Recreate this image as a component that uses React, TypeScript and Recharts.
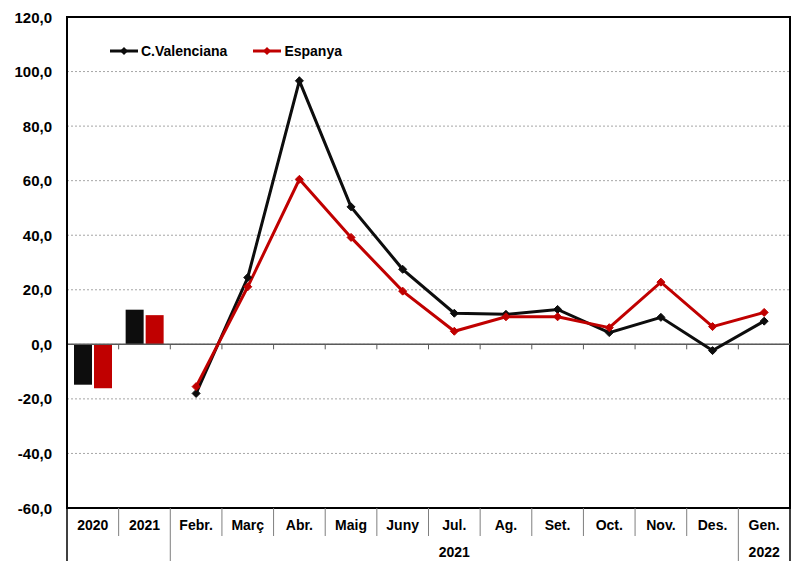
import React from 'react';
import {
  ComposedChart, Bar, Line, XAxis, YAxis, CartesianGrid, ReferenceLine, ReferenceArea,
} from 'recharts';

const categories = ['2020', '2021', 'Febr.', 'Març', 'Abr.', 'Maig', 'Juny', 'Jul.', 'Ag.', 'Set.', 'Oct.', 'Nov.', 'Des.', 'Gen.'];
const annualCats = ['2020', '2021'];
const cvAnnual = [-14.8, 12.7];
const esAnnual = [-16.1, 10.7];
const monthCats = ['Febr.', 'Març', 'Abr.', 'Maig', 'Juny', 'Jul.', 'Ag.', 'Set.', 'Oct.', 'Nov.', 'Des.', 'Gen.'];
const cvMonthly = [-18.0, 24.5, 96.6, 50.4, 27.5, 11.4, 11.0, 12.8, 4.3, 9.9, -2.3, 8.5];
const esMonthly = [-15.5, 21.1, 60.5, 39.2, 19.5, 4.8, 10.1, 10.1, 6.1, 22.8, 6.5, 11.7];
const yearGroups = [
  { label: '2021', from: 2, to: 12 },
  { label: '2022', from: 13, to: 13 },
];
const yTicks = [-60, -40, -20, 0, 20, 40, 60, 80, 100, 120];
const seriesNames = { cv: 'C.Valenciana', es: 'Espanya' };

const W = 798;
const H = 561;
const PLOT_LEFT = 67;
const PLOT_TOP = 17;
const PLOT_RIGHT = 790;
const PLOT_BOTTOM = 508;
const PLOT_W = PLOT_RIGHT - PLOT_LEFT;
const PLOT_H = PLOT_BOTTOM - PLOT_TOP;
const Y_MIN = -60;
const Y_MAX = 120;
const ZERO_Y = PLOT_TOP + (PLOT_H * (Y_MAX - 0)) / (Y_MAX - Y_MIN);

const BLACK = '#0d0d0d';
const RED = '#c00000';
const FONT = '"Liberation Sans", Arial, sans-serif';

const data = categories.map((c) => {
  const ai = annualCats.indexOf(c);
  const mi = monthCats.indexOf(c);
  return {
    cat: c,
    cvBar: ai >= 0 ? cvAnnual[ai] : null,
    esBar: ai >= 0 ? esAnnual[ai] : null,
    cv: mi >= 0 ? cvMonthly[mi] : null,
    es: mi >= 0 ? esMonthly[mi] : null,
  };
});

const fmt = (v: number) => v.toFixed(1).replace('.', ',');

const Diamond = (color: string) => (props: any) => {
  const { cx, cy } = props;
  if (cx == null || cy == null || props.value == null) return <g />;
  const s = 4;
  return (
    <polygon
      points={`${cx},${cy - s} ${cx + s},${cy} ${cx},${cy + s} ${cx - s},${cy}`}
      fill={color}
      stroke={color}
      strokeWidth={1}
    />
  );
};

const groupBoundaries = new Set<number>();
yearGroups.forEach((g) => { groupBoundaries.add(g.from - 1); groupBoundaries.add(g.to); });

const XTick = (props: any) => {
  const { x, payload, index } = props;
  const n = categories.length;
  const bw = PLOT_W / n;
  const xr = x + bw / 2;
  const xl = x - bw / 2;
  const isLong = groupBoundaries.has(index);
  const group = yearGroups.find((g) => Math.floor((g.from + g.to) / 2) === index);
  return (
    <g>
      <text
        x={x}
        y={525}
        textAnchor="middle"
        dominantBaseline="central"
        fontFamily={FONT}
        fontWeight="bold"
        fontSize={14}
        fill="#000"
      >
        {payload.value}
      </text>
      {index === 0 && (
        <line x1={xl} x2={xl} y1={PLOT_BOTTOM} y2={H} stroke="#000" strokeWidth={1.5} />
      )}
      <line
        x1={xr}
        x2={xr}
        y1={PLOT_BOTTOM}
        y2={isLong ? H : 536}
        stroke={index === n - 1 ? '#000' : '#7f7f7f'}
        strokeWidth={index === n - 1 ? 1.5 : 1}
      />
      {index < n - 1 && (
        <line x1={xr} x2={xr} y1={ZERO_Y} y2={ZERO_Y + 5} stroke="#595959" strokeWidth={1} />
      )}
      {group && (
        <text
          x={x + (((group.from + group.to) / 2) - index) * bw}
          y={552}
          textAnchor="middle"
          dominantBaseline="central"
          fontFamily={FONT}
          fontWeight="bold"
          fontSize={14}
          fill="#000"
        >
          {group.label}
        </text>
      )}
    </g>
  );
};

const YTick = (props: any) => {
  const { y, payload } = props;
  return (
    <text
      x={52}
      y={y}
      textAnchor="end"
      dominantBaseline="central"
      fontFamily={FONT}
      fontWeight="bold"
      fontSize={15}
      fill="#000"
    >
      {fmt(payload.value)}
    </text>
  );
};

const legendItems = [
  { name: seriesNames.cv, color: BLACK },
  { name: seriesNames.es, color: RED },
];

const LegendOverlay = () => (
  <div
    style={{
      position: 'absolute', left: 110, top: 42, display: 'flex', alignItems: 'center',
      fontFamily: FONT, fontWeight: 'bold', fontSize: 14, lineHeight: '18px',
    }}
  >
    {legendItems.map((p, i) => (
      <div key={i} style={{ display: 'flex', alignItems: 'center', marginRight: i === 0 ? 26 : 0 }}>
        <svg width={28} height={10} style={{ marginRight: 3 }}>
          <line x1={0} x2={28} y1={5} y2={5} stroke={p.color} strokeWidth={3} />
          <polygon points="14,1 18,5 14,9 10,5" fill={p.color} />
        </svg>
        <span style={{ color: '#000' }}>{p.name}</span>
      </div>
    ))}
  </div>
);

export default function App() {
  return (
    <div style={{ position: 'absolute', left: 0, top: 0, width: W, height: H, background: '#fff' }}>
      <ComposedChart
        width={W}
        height={H}
        data={data}
        margin={{ top: PLOT_TOP, right: W - PLOT_RIGHT, bottom: 0, left: 7 }}
        barGap={2}
      >
        <CartesianGrid horizontal vertical={false} stroke="#a6a6a6" strokeDasharray="2 2" />
        <XAxis
          dataKey="cat"
          height={H - PLOT_BOTTOM}
          axisLine={{ stroke: '#000', strokeWidth: 2 }}
          tickLine={false}
          tick={<XTick />}
          interval={0}
        />
        <YAxis
          domain={[Y_MIN, Y_MAX]}
          ticks={yTicks}
          width={PLOT_LEFT - 7}
          tickLine={false}
          axisLine={{ stroke: '#000', strokeWidth: 2 }}
          tick={<YTick />}
          interval={0}
          allowDataOverflow
        />
        <ReferenceArea y1={Y_MIN} y2={Y_MAX} fill="none" fillOpacity={0} stroke="#000" strokeWidth={2} />
        <ReferenceLine y={0} stroke="#595959" strokeWidth={1.5} />
        <Bar dataKey="cvBar" name={seriesNames.cv} fill={BLACK} barSize={18} isAnimationActive={false} />
        <Bar dataKey="esBar" name={seriesNames.es} fill={RED} barSize={18} isAnimationActive={false} />
        <Line
          dataKey="cv"
          name={seriesNames.cv}
          stroke={BLACK}
          strokeWidth={3}
          dot={Diamond(BLACK)}
          activeDot={false}
          isAnimationActive={false}
        />
        <Line
          dataKey="es"
          name={seriesNames.es}
          stroke={RED}
          strokeWidth={3}
          dot={Diamond(RED)}
          activeDot={false}
          isAnimationActive={false}
        />
      </ComposedChart>
      <LegendOverlay />
    </div>
  );
}
